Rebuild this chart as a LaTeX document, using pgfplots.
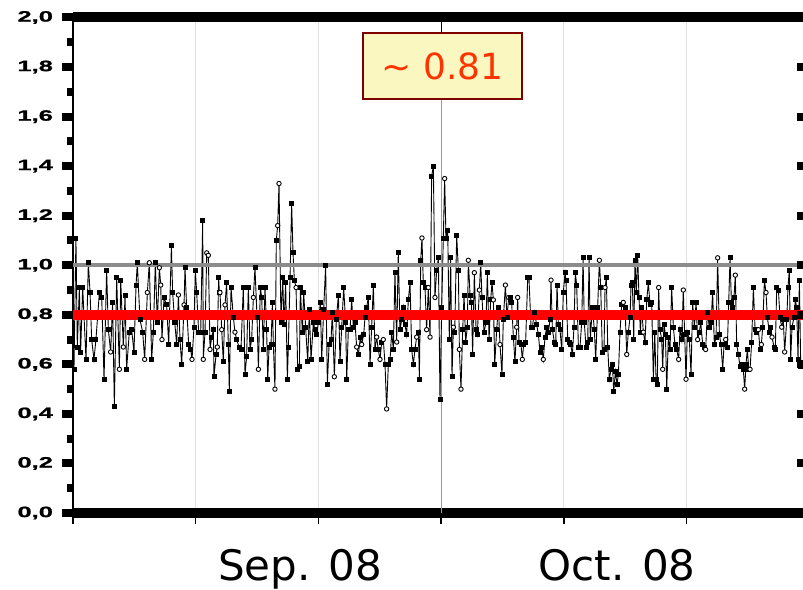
\documentclass[border=0pt]{standalone}
\usepackage{fontspec}
\setmainfont{DejaVu Sans}
\newfontfamily\tickfont[FakeStretch=1.7, FakeBold=1.2]{Liberation Sans}
\usepackage{pgfplots}
\pgfplotsset{compat=1.18}
\usepackage{pgfplotstable}

\definecolor{meanred}{RGB}{255,0,0}
\definecolor{refgray}{RGB}{140,140,140}
\definecolor{boxfill}{RGB}{250,248,192}
\definecolor{boxedge}{RGB}{128,0,0}
\definecolor{labelred}{RGB}{255,51,0}

% t = day from start of record, v = ratio, c = marker class (s filled / o open)
\pgfplotstableread[row sep=\\]{
t v c \\
0.08 0.58 s \\ 0.24 1.11 s \\ 0.35 0.67 s \\ 0.52 0.91 s \\ 0.62 0.65 s \\ 0.79 0.91 s \\ 1.06 0.62 s \\ 1.25 1.01 s \\ 1.39 0.89 s \\ 1.52 0.70 s \\
1.71 0.62 s \\ 1.87 0.70 s \\ 2.15 0.89 s \\ 2.34 0.87 s \\ 2.53 0.54 s \\ 2.74 0.98 s \\ 2.88 0.74 s \\ 3.07 0.65 o \\ 3.23 0.85 s \\ 3.37 0.43 s \\
3.56 0.95 s \\ 3.78 0.58 o \\ 3.89 0.94 s \\ 4.10 0.67 o \\ 4.24 0.88 s \\ 4.37 0.58 s \\ 4.59 0.73 s \\ 4.78 0.74 s \\ 4.97 0.65 s \\ 5.14 0.92 s \\
5.24 1.01 s \\ 5.46 0.78 s \\ 5.68 0.73 s \\ 5.84 0.62 o \\ 6.06 0.89 o \\ 6.22 1.01 o \\ 6.41 0.62 s \\ 6.55 0.73 s \\ 6.71 1.01 s \\ 6.87 0.77 s \\
7.04 0.99 o \\ 7.15 0.92 o \\ 7.25 0.70 o \\ 7.42 0.87 s \\ 7.63 0.84 s \\ 7.80 0.68 s \\ 8.02 1.08 s \\ 8.12 0.89 s \\ 8.29 0.77 s \\ 8.45 0.68 s \\
8.59 0.88 o \\ 8.72 0.70 s \\ 8.86 0.60 s \\ 9.05 0.84 o \\ 9.13 0.99 s \\ 9.26 0.83 s \\ 9.43 0.68 s \\ 9.59 0.66 s \\ 9.70 0.62 o \\ 9.86 0.75 s \\
9.97 0.98 s \\ 10.08 0.89 s \\ 10.24 0.73 s \\ 10.41 0.73 s \\ 10.57 1.18 s \\ 10.62 0.62 o \\ 10.76 0.73 s \\ 10.90 1.05 o \\ 11.03 1.04 o \\ 11.17 0.66 o \\
11.30 0.71 s \\ 11.44 0.74 s \\ 11.49 0.55 s \\ 11.66 0.64 s \\ 11.76 0.67 o \\ 11.87 0.95 s \\ 11.93 0.89 s \\
11.98 0.89 o \\ 12.12 0.74 o \\ 12.25 0.61 s \\ 12.39 0.84 o \\ 12.52 0.93 s \\ 12.66 0.68 s \\ 12.74 0.49 s \\ 12.88 0.91 s \\ 13.07 0.79 s \\ 13.20 0.73 o \\
13.34 0.70 s \\ 13.53 0.67 s \\ 13.69 0.66 s \\ 13.88 0.91 s \\ 14.02 0.56 s \\ 14.15 0.63 s \\ 14.29 0.91 s \\ 14.43 0.66 s \\ 14.56 0.70 s \\ 14.70 0.87 o \\
14.83 0.99 s \\ 15.00 0.79 s \\ 15.11 0.58 o \\ 15.27 0.91 s \\ 15.38 0.87 s \\ 15.51 0.66 s \\ 15.65 0.91 s \\ 15.78 0.74 s \\ 15.87 0.54 s \\ 15.98 0.67 s \\
16.14 0.68 s \\ 16.25 0.85 s \\ 16.33 0.68 s \\ 16.46 0.50 o \\ 16.57 1.10 s \\ 16.68 1.16 o \\ 16.79 1.33 o \\ 16.95 0.77 s \\ 17.09 0.95 s \\ 17.20 0.76 s \\
17.33 0.93 s \\ 17.47 0.54 s \\ 17.55 0.67 s \\ 17.69 0.95 s \\ 17.82 1.25 s \\ 17.93 1.05 s \\ 18.04 0.94 s \\ 18.18 0.91 o \\ 18.31 0.58 s \\ 18.45 0.59 s \\
18.53 0.91 s \\ 18.69 0.73 s \\ 18.80 0.89 s \\ 18.96 0.75 s \\ 19.13 0.61 s \\ 19.26 0.82 s \\ 19.40 0.62 s \\ 19.59 0.77 s \\ 19.72 0.74 s \\ 19.86 0.72 s \\
20.00 0.77 s \\ 20.16 0.85 s \\ 20.27 0.62 s \\ 20.43 0.82 s \\ 20.59 1.00 s \\ 20.73 0.52 s \\ 20.87 0.68 s \\ 21.03 0.70 s \\ 21.14 0.81 s \\ 21.30 0.55 o \\
21.46 0.78 s \\ 21.63 0.88 s \\ 21.76 0.61 s \\ 21.90 0.75 s \\ 22.06 0.91 s \\ 22.22 0.77 s \\ 22.31 0.54 s \\ 22.44 0.74 s \\ 22.58 0.74 s \\ 22.71 0.86 s \\
22.85 0.75 s \\ 22.98 0.77 s \\ 23.12 0.67 o \\ 23.26 0.64 s \\ 23.42 0.71 s \\ 23.53 0.68 o \\ 23.69 0.72 s \\
23.80 0.79 s \\ 23.93 0.83 s \\ 24.07 0.87 s \\ 24.21 0.60 s \\ 24.34 0.75 s \\ 24.48 0.92 s \\ 24.61 0.66 s \\ 24.75 0.71 o \\ 24.88 0.66 s \\ 25.02 0.62 o \\
25.16 0.69 s \\ 25.29 0.70 o \\ 25.43 0.60 s \\ 25.56 0.42 o \\ 25.70 0.60 s \\ 25.84 0.62 s \\ 25.97 0.73 s \\ 26.11 0.66 s \\ 26.24 0.97 s \\ 26.38 0.69 o \\
26.51 1.05 s \\ 26.65 0.74 s \\ 26.79 0.78 s \\ 26.92 0.83 s \\ 27.06 0.76 s \\ 27.19 0.72 s \\ 27.33 0.86 s \\ 27.47 0.93 s \\ 27.60 0.66 s \\ 27.74 0.60 s \\
27.87 0.66 s \\ 28.01 0.71 o \\ 28.15 0.73 s \\ 28.23 0.54 s \\ 28.34 1.02 s \\ 28.44 1.11 o \\ 28.55 0.93 s \\ 28.69 0.91 s \\ 28.82 0.74 o \\ 28.96 0.91 o \\
29.10 0.71 o \\ 29.23 1.36 s \\ 29.37 1.40 s \\ 29.50 0.87 o \\ 29.64 0.98 s \\ 29.78 1.03 s \\ 29.91 0.46 s \\ 30.05 0.83 s \\ 30.18 1.11 s \\ 30.29 1.35 o \\
30.40 1.11 s \\ 30.54 1.14 s \\ 30.67 0.70 s \\ 30.78 1.03 s \\ 30.89 0.55 s \\ 31.00 0.75 o \\ 31.11 0.73 s \\ 31.27 1.12 s \\ 31.41 0.98 s \\ 31.49 0.66 o \\
31.62 0.50 o \\ 31.76 0.74 s \\ 31.87 0.88 s \\ 32.00 0.69 s \\ 32.14 0.75 s \\ 32.22 1.02 o \\ 32.36 0.88 s \\ 32.47 0.85 s \\ 32.57 0.64 s \\ 32.71 0.97 o \\
32.85 0.74 s \\ 32.95 0.72 s \\ 33.12 0.90 o \\ 33.23 1.01 s \\ 33.33 0.87 s \\ 33.50 0.73 s \\ 33.66 0.77 s \\ 33.77 0.97 s \\ 33.91 0.70 s \\ 34.04 0.86 s \\
34.15 0.93 s \\ 34.26 0.86 o \\ 34.37 0.60 s \\ 34.53 0.74 s \\ 34.67 0.83 s \\ 34.80 0.68 o \\ 34.96 0.56 s \\ 35.07 0.78 s \\ 35.24 0.92 o \\ 35.37 0.79 s \\
35.51 0.87 o \\
35.62 0.87 s \\ 35.75 0.85 s \\ 35.89 0.71 s \\ 36.02 0.61 s \\ 36.16 0.75 o \\ 36.24 0.87 o \\ 36.35 0.69 s \\ 36.51 0.68 s \\ 36.62 0.62 o \\ 36.73 0.68 s \\
36.89 0.69 s \\ 37.06 0.95 s \\ 37.16 0.95 s \\ 37.33 0.75 s \\ 37.44 0.75 s \\ 37.60 0.81 s \\ 37.79 0.76 s \\ 37.93 0.72 s \\ 38.06 0.65 s \\ 38.20 0.67 s \\
38.33 0.62 o \\ 38.47 0.71 s \\ 38.60 0.75 s \\ 38.74 0.73 s \\ 38.88 0.78 s \\ 38.96 0.94 o \\ 39.07 0.74 s \\ 39.23 0.69 s \\ 39.34 0.68 s \\ 39.45 0.92 s \\
39.56 0.76 s \\ 39.69 0.74 s \\ 39.83 0.66 s \\ 39.96 0.89 s \\ 40.10 0.97 s \\ 40.18 0.94 s \\ 40.32 0.70 s \\ 40.43 0.69 s \\ 40.56 0.68 s \\ 40.70 0.64 s \\
40.83 0.75 s \\ 40.94 0.97 s \\ 41.05 0.92 s \\ 41.19 0.67 s \\ 41.32 0.67 s \\ 41.46 0.77 s \\ 41.57 1.03 s \\ 41.67 0.77 s \\ 41.81 0.67 s \\ 41.95 0.69 s \\
42.06 1.03 s \\ 42.16 0.70 s \\ 42.33 0.83 s \\ 42.49 0.74 s \\ 42.60 0.62 s \\ 42.76 0.83 s \\ 42.90 1.02 o \\ 43.01 0.91 s \\ 43.14 0.65 s \\ 43.28 0.66 s \\
43.36 0.91 o \\ 43.47 0.95 s \\ 43.58 0.67 s \\ 43.71 0.54 s \\ 43.85 0.58 s \\ 43.96 0.60 s \\ 44.07 0.49 s \\ 44.20 0.57 s \\ 44.34 0.52 s \\ 44.45 0.56 s \\
44.58 0.73 s \\ 44.72 0.84 s \\ 44.85 0.85 o \\ 44.99 0.83 s \\ 45.13 0.64 o \\ 45.26 0.73 s \\ 45.40 0.79 s \\ 45.48 0.92 s \\ 45.59 0.93 s \\ 45.70 0.70 s \\
45.80 1.02 s \\ 45.91 0.89 s \\ 46.02 1.04 s \\ 46.13 0.87 s \\ 46.24 0.73 s \\ 46.35 0.83 s \\ 46.48 0.73 o \\ 46.62 0.69 s \\ 46.76 0.86 s \\ 46.89 0.93 s \\
47.03 0.84 s \\ 47.16 0.85 s \\ 47.30 0.54 s \\
47.41 0.73 s \\ 47.52 0.54 s \\ 47.62 0.52 s \\ 47.73 0.91 o \\ 47.84 0.74 s \\ 47.98 0.70 s \\ 48.06 0.58 o \\ 48.17 0.76 s \\ 48.28 0.72 s \\ 48.39 0.50 s \\
48.52 0.71 s \\ 48.66 0.66 s \\ 48.79 0.91 s \\ 48.93 0.75 s \\ 49.06 0.68 s \\ 49.20 0.66 s \\ 49.36 0.62 o \\ 49.47 0.74 s \\ 49.61 0.70 s \\ 49.74 0.90 o \\
49.85 0.72 s \\ 49.96 0.54 o \\ 50.07 0.73 s \\ 50.23 0.70 s \\ 50.37 0.56 s \\ 50.50 0.85 s \\ 50.64 0.75 s \\ 50.78 0.85 s \\ 50.91 0.70 o \\ 51.05 0.73 s \\
51.16 0.77 s \\ 51.32 0.68 s \\ 51.46 0.67 s \\ 51.56 0.66 o \\ 51.70 0.81 s \\ 51.86 0.75 s \\ 52.00 0.77 s \\ 52.13 0.89 s \\ 52.27 0.68 s \\ 52.41 0.71 s \\
52.54 1.03 o \\ 52.68 0.72 s \\ 52.81 0.68 s \\ 52.95 0.58 s \\ 53.06 0.68 s \\ 53.19 0.70 o \\ 53.33 0.67 s \\ 53.44 0.85 s \\ 53.55 1.03 s \\ 53.66 0.85 s \\
53.76 0.83 s \\ 53.87 0.87 s \\ 53.98 0.96 o \\ 54.09 0.68 s \\ 54.23 0.64 s \\ 54.36 0.59 s \\ 54.50 0.60 s \\ 54.63 0.58 s \\ 54.74 0.50 o \\ 54.85 0.60 s \\
54.96 0.66 s \\ 55.07 0.58 s \\ 55.18 0.58 o \\ 55.31 0.69 s \\ 55.45 0.91 s \\ 55.59 0.74 s \\ 55.72 0.73 s \\ 55.86 0.74 o \\ 55.99 0.66 s \\ 56.10 0.68 o \\
56.21 0.75 s \\ 56.35 0.94 s \\ 56.48 0.89 o \\ 56.59 0.79 s \\ 56.75 0.73 s \\ 56.86 0.75 s \\ 56.97 0.71 o \\ 57.13 0.67 s \\ 57.24 0.66 s \\ 57.35 0.91 s \\
57.49 0.90 s \\ 57.62 0.79 s \\ 57.76 0.75 o \\ 57.89 0.78 s \\ 58.00 0.65 o \\ 58.17 0.78 s \\ 58.27 0.91 s \\ 58.38 0.98 s \\ 58.49 0.62 s \\ 58.60 0.75 s \\
58.76 0.79 s \\ 58.87 0.86 s \\ 58.98 0.83 s \\ 59.09 0.62 s \\ 59.20 0.94 s \\ 59.31 0.59 s \\
}\series

\begin{document}
\begin{tikzpicture}
\begin{axis}[
  x=6.135pt, y=123.875pt,
  xmin=0, xmax=60, ymin=0, ymax=2,
  scale only axis,
  clip=false,
  separate axis lines,
  x axis line style={line width=5pt, black},
  y axis line style={line width=0.75pt, black},
  tick align=outside,
  xtick={0,10,20,30,40,50,60}, xticklabels={},
  xtick pos=left,
  ytick pos=left,
  ytick={0,0.2,0.4,0.6,0.8,1,1.2,1.4,1.6,1.8,2},
  minor ytick={0.1,0.3,0.5,0.7,0.9,1.1,1.3,1.5,1.7,1.9},
  major tick length=5.5pt, minor tick length=3pt,
  xtick style={line width=0.8pt, black},
  ytick style={line width=4pt, black},
  xmajorgrids,
  x grid style={black!12, line width=0.5pt},
  yticklabel style={font=\tickfont\bfseries\fontsize{7.5}{8}\selectfont, xshift=-1pt,
    /pgf/number format/.cd, assume math mode=true, use comma, fixed, fixed zerofill, precision=1},
]
\draw[black!40, line width=0.5pt] (axis cs:30,0) -- (axis cs:30,2);
\addplot[black, line width=0.45pt, scatter, scatter src=explicit symbolic,
  scatter/classes={
    s={mark=square*, mark size=1pt, draw=black, fill=black},
    o={mark=*, mark size=1.1pt, draw=black, fill=white}}]
  table[x=t, y=v, meta=c] {\series};
\addplot[refgray, line width=2pt] coordinates {(0,1) (60,1)};
\addplot[meanred, line width=5pt] coordinates {(0,0.8) (60,0.8)};
\draw[black, line width=0.6pt] (axis cs:30,1.937) -- (axis cs:30,2);
\node[draw=boxedge, line width=0.9pt, fill=boxfill, text=labelred,
  font=\fontsize{18}{20}\selectfont, minimum width=79.5pt, minimum height=33pt,
  inner sep=0pt] at (axis cs:30.11,1.804) {\textasciitilde{} 0.81};
\node[anchor=base, font=\fontsize{21}{24}\selectfont] at ([yshift=-33.5pt]axis cs:18.5,0) {Sep. 08};
\node[anchor=base, font=\fontsize{21}{24}\selectfont] at ([yshift=-33.5pt]axis cs:44.34,0) {Oct. 08};
\coordinate (O) at (axis cs:0,0);
\end{axis}
% inward ticks on the right-hand axis
\begin{axis}[
  x=6.135pt, y=123.875pt,
  xmin=0, xmax=60, ymin=0, ymax=2,
  scale only axis,
  axis x line=none,
  axis y line*=right,
  y axis line style={draw=none},
  tick align=inside,
  ytick={0.2,0.4,0.6,0.8,1,1.2,1.4,1.6,1.8},
  yticklabels={},
  major tick length=6pt,
  ytick style={line width=4pt, black},
]
\end{axis}
\pgfresetboundingbox
\path[use as bounding box] (O) ++(-36.5pt,-38pt) rectangle ++(401.5pt,294.5pt);
\end{tikzpicture}
\end{document}
